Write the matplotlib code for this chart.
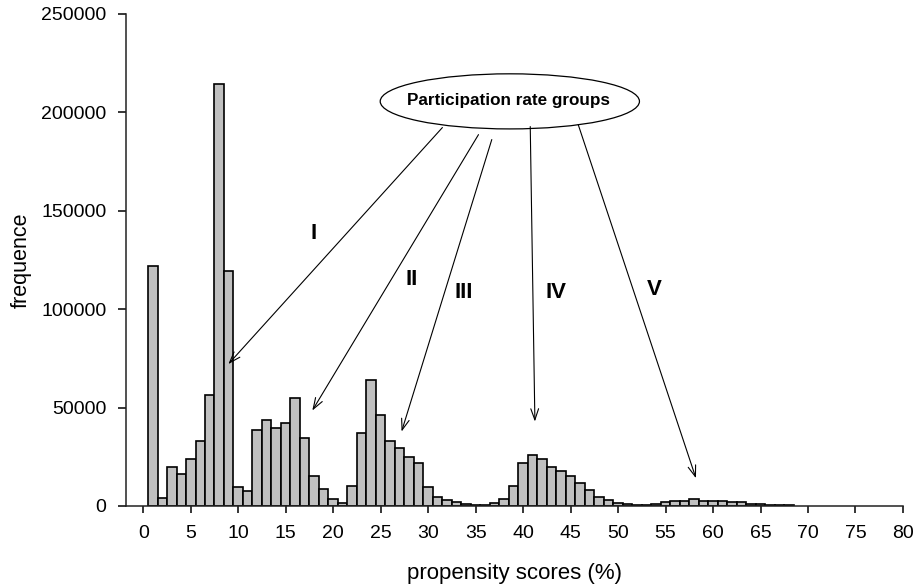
import numpy as np
import matplotlib
matplotlib.use("Agg")
import matplotlib.pyplot as plt
from matplotlib.patches import Ellipse

plt.rcParams['font.family'] = ['Liberation Sans', 'DejaVu Sans']

# propensity score bins (1 % wide, centred on integers) and their counts
scores = list(range(1, 69))
freq = [122000, 3800, 20000, 16000, 24000, 33000, 56500, 214500, 119500, 9500,
        7800, 38800, 43600, 39600, 42000, 55000, 34600, 15200, 8500, 3700,
        1300, 10100, 37000, 64000, 46000, 33000, 29700, 24900, 21700, 9700,
        4600, 2900, 1800, 1000, 300, 400, 1300, 3600, 10100, 21800,
        25800, 23900, 19900, 17700, 15000, 11900, 7900, 4500, 3000, 1300,
        1000, 300, 300, 1200, 2000, 2700, 2700, 3600, 2700, 2700,
        2700, 1900, 1900, 1200, 1200, 400, 400, 400]

xticks = list(range(0, 81, 5))
yticks = [0, 50000, 100000, 150000, 200000, 250000]

# participation rate groups: label, label position, arrow start, arrow tip
groups = ["I", "II", "III", "IV", "V"]
label_xy = [(17.9, 138700), (28.3, 115000), (33.7, 108500), (43.5, 108500), (53.8, 110200)]
arrow_from = [(31.5, 192300), (35.3, 188700), (36.7, 186200), (40.75, 192800), (45.8, 193800)]
arrow_to = [(8.96, 72100), (17.8, 48500), (27.2, 37800), (41.24, 42900), (58.2, 14100)]

fig = plt.figure(figsize=(9.17, 5.88), dpi=100)
ax = fig.add_axes([0.1374, 0.1395, 0.8473, 0.8367])

ax.bar(scores, freq, width=1.0, color='#c0c0c0', edgecolor='black', linewidth=1.2)

ax.set_xlim(-1.82, 80)
ax.set_ylim(0, 250000)
ax.set_xticks(xticks)
ax.set_yticks(yticks)
ax.tick_params(axis='x', direction='out', length=5, width=1.1, labelsize=14, pad=9)
ax.tick_params(axis='y', direction='out', length=6, width=1.1, labelsize=14, pad=8)
for s in ['top', 'right']:
    ax.spines[s].set_visible(False)
for s in ['left', 'bottom']:
    ax.spines[s].set_linewidth(1.1)
    ax.spines[s].set_color('#222222')

ax.set_xlabel('propensity scores (%)', fontsize=16, labelpad=15)
ax.set_ylabel('frequence', fontsize=15.5, labelpad=7)

ell = Ellipse((38.6, 205600), 27.3, 28000, facecolor='white', edgecolor='black',
              linewidth=0.9, zorder=3)
ax.add_patch(ell)
ax.text(38.5, 206000, 'Participation rate groups', ha='center', va='center',
        fontsize=12.3, fontweight='bold', zorder=4)

for g, lxy, a0, a1 in zip(groups, label_xy, arrow_from, arrow_to):
    ax.annotate('', xy=a1, xytext=a0,
                arrowprops=dict(arrowstyle='->,head_length=0.8,head_width=0.28',
                                color='black', lw=0.8, shrinkA=0, shrinkB=0))
    ax.text(lxy[0], lxy[1], g, ha='center', va='center', fontsize=16,
            fontweight='bold')

fig.savefig('out.png', dpi=100)
